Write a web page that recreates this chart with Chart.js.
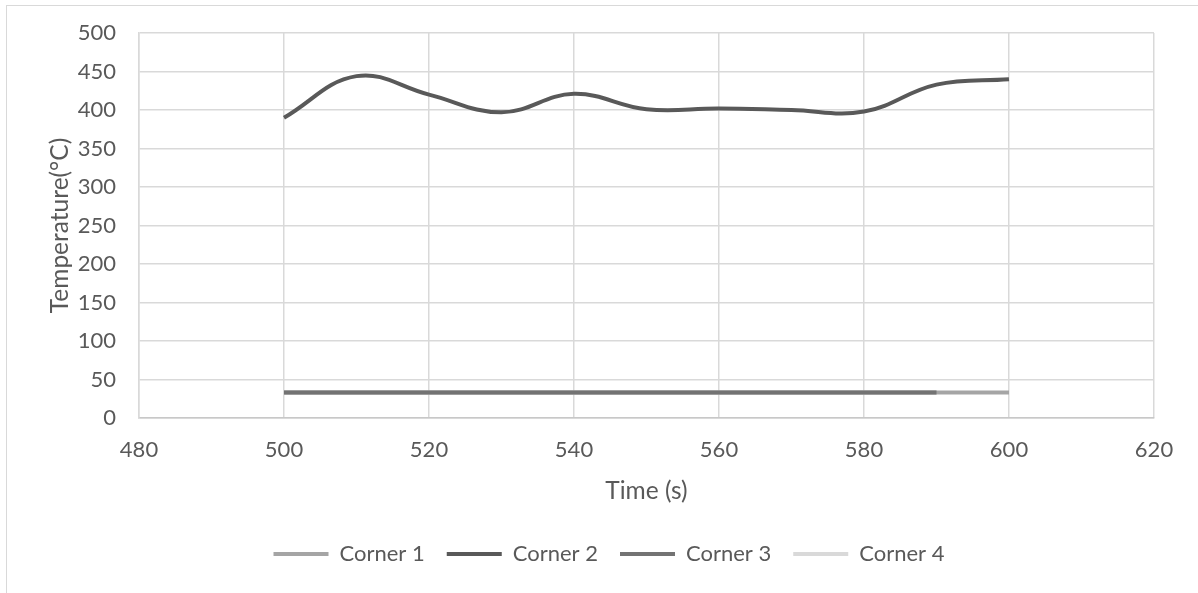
<!DOCTYPE html>
<html>
<head>
<meta charset="utf-8">
<title>Temperature vs Time</title>
<script src="https://cdn.jsdelivr.net/npm/chart.js@4.4.0/dist/chart.umd.min.js"></script>
<style>
  html, body { margin: 0; padding: 0; background: #fff; overflow: hidden; width: 1198px; height: 593px; }
  #frame { position: absolute; left: 6px; top: 5px; width: 1206px; height: 600px; border: 1.5px solid #d9d9d9; box-sizing: border-box; }
  #chart { position: absolute; left: -1px; top: -1px; }
</style>
</head>
<body>
<div id="frame"><canvas id="chart" width="1206" height="600"></canvas></div>
<script>
// Time values (s) and temperatures (°C)
const times = [500, 510, 520, 530, 540, 550, 560, 570, 580, 590, 600];
const corner1 = [33, 33, 33, 33, 33, 33, 33, 33, 33, 33, 33];
const corner2 = [390, 444, 420, 397, 421, 401, 402, 400, 398, 433, 440];
const corner3 = [33, 33, 33, 33, 33, 33, 33, 33, 33, 33];
const corner4 = [33, 33, 33, 33, 33, 33, 33, 33, 33, 33];

const seriesNames = ["Corner 1", "Corner 2", "Corner 3", "Corner 4"];
const xTicks = { min: 480, max: 620, step: 20 };
const yTicks = { min: 0, max: 500, step: 50 };

// pair each value with its time
function toPoints(values) {
  return values.map((v, i) => ({ x: times[i], y: v }));
}

Chart.defaults.font.family = "Lato, 'Open Sans', sans-serif";
Chart.defaults.font.size = 22;
Chart.defaults.color = "#595959";

function makeDataset(label, values, color, order) {
  return {
    label: label,
    data: toPoints(values),
    borderColor: color,
    backgroundColor: color,
    borderWidth: 4,
    pointRadius: 0,
    tension: 0.4,
    fill: false,
    order: order
  };
}

new Chart(document.getElementById("chart"), {
  type: "line",
  data: {
    datasets: [
      makeDataset(seriesNames[0], corner1, "#a5a5a5", 3),
      makeDataset(seriesNames[1], corner2, "#595959", 1),
      makeDataset(seriesNames[2], corner3, "#737373", 2),
      makeDataset(seriesNames[3], corner4, "#d9d9d9", 4)
    ]
  },
  options: {
    responsive: false,
    animation: false,
    layout: { padding: { top: 28, right: 0, bottom: 30, left: 0 } },
    scales: {
      x: {
        type: "linear",
        min: xTicks.min,
        max: xTicks.max,
        ticks: { stepSize: xTicks.step, padding: 19 },
        grid: { color: "#d9d9d9", lineWidth: 1.5, drawTicks: false },
        border: { color: "#c8c8c8", width: 1.5 },
        title: { display: true, text: "Time (s)", font: { size: 24.5 }, padding: { top: 0, bottom: 15 } },
        afterFit: function (scale) { scale.height = 103; }
      },
      y: {
        min: yTicks.min,
        max: yTicks.max,
        ticks: { stepSize: yTicks.step, padding: 23 },
        grid: { color: "#d9d9d9", lineWidth: 1.5, drawTicks: false },
        border: { color: "#d9d9d9", width: 1.5 },
        title: { display: true, text: "Temperature(°C)", font: { size: 24.5 }, padding: { top: 39, bottom: 0 } },
        afterFit: function (scale) {
          scale.width = 133;
          scale.paddingTop = 0;
          scale.paddingBottom = 0;
        }
      },
      // empty axis that only keeps the gap on the right of the plot
      yRight: {
        position: "right",
        min: yTicks.min,
        max: yTicks.max,
        ticks: { display: false },
        grid: { display: false },
        border: { display: false },
        afterFit: function (scale) {
          scale.width = 58;
          scale.paddingTop = 0;
          scale.paddingBottom = 0;
        }
      }
    },
    plugins: {
      tooltip: { enabled: false },
      legend: {
        position: "bottom",
        labels: {
          boxWidth: 55,
          boxHeight: 4,
          padding: 22,
          generateLabels: function (chart) {
            const items = Chart.defaults.plugins.legend.labels.generateLabels(chart);
            items.forEach(item => { item.fillStyle = item.strokeStyle; item.lineWidth = 0; });
            return items.sort((a, b) => a.datasetIndex - b.datasetIndex);
          }
        }
      }
    }
  }
});
</script>
</body>
</html>
